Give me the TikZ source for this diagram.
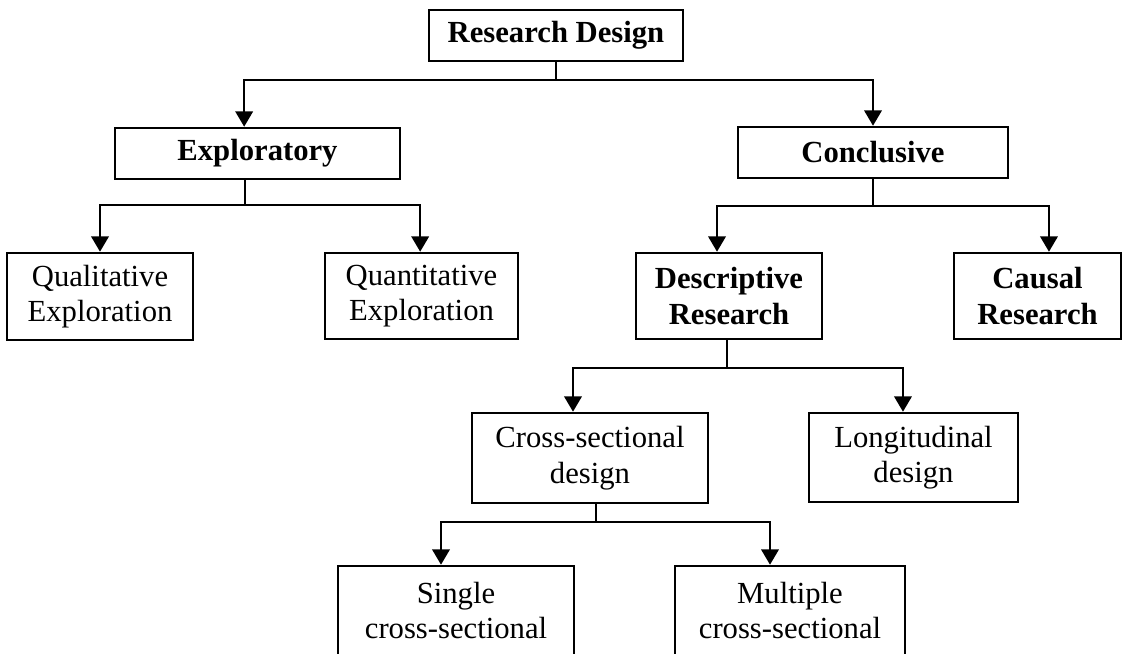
\documentclass[tikz,border=0pt]{standalone}
\usepackage{fontspec}
\setmainfont{Liberation Serif}
\usetikzlibrary{arrows.meta}

\tikzset{
  box/.style={draw, line width=1.9pt, inner sep=0pt, align=center,
              font=\fontsize{23}{26.5}\selectfont},
  bbox/.style={box, font=\fontsize{23}{26.5}\selectfont\bfseries},
  line/.style={line width=1.9pt},
  arr/.style={line width=1.9pt, -{Triangle[length=11.5pt,width=13pt]}},
}

\begin{document}
\begin{tikzpicture}[x=0.75pt, y=-0.75pt]
  \useasboundingbox (0,0) rectangle (1123,653);
  \clip (0,0) rectangle (1123,653);

  % bus levels of the tree
  \coordinate (L1) at (0,80);
  \coordinate (L2) at (0,205);
  \coordinate (L3) at (0,206);
  \coordinate (L4) at (0,368);
  \coordinate (L5) at (0,522);

  % boxes
  \node[bbox, minimum width=190.5pt, minimum height=38.25pt] (rd)   at (556,35.5)   {Research Design};
  \node[bbox, minimum width=213.75pt, minimum height=38.25pt] (exp)  at (257.5,153.5) {Exploratory};
  \node[bbox, minimum width=202.5pt, minimum height=38.25pt] (con)  at (873,152.5)  {Conclusive};
  \node[box,  minimum width=139.5pt, minimum height=65.25pt] (qual) at (100,296.5)  {Qualitative\\Exploration};
  \node[box,  minimum width=144.75pt, minimum height=64.5pt] (quan) at (421.5,296)  {Quantitative\\Exploration};
  \node[bbox, minimum width=139.5pt, minimum height=64.5pt] (desc) at (729,296)    {Descriptive\\Research};
  \node[bbox, minimum width=125.25pt, minimum height=64.5pt] (caus) at (1037.5,296) {Causal\\Research};
  \node[box,  minimum width=177pt, minimum height=67.5pt] (cross) at (590,458)   {Cross-sectional\\design};
  \node[box,  minimum width=156.75pt, minimum height=66.75pt] (long) at (913.5,457.5) {Longitudinal\\design};
  \node[box,  minimum width=177pt, minimum height=97.5pt] (single) at (456,631)  {Single\\cross-sectional\\\phantom{design}};
  \node[box,  minimum width=172.5pt, minimum height=97.5pt] (multi)  at (790,631)  {Multiple\\cross-sectional\\\phantom{design}};

  % Research Design -> Exploratory / Conclusive
  \draw[line] (rd.south) -- (rd.south |- L1);
  \draw[arr] (rd.south |- L1) -| ([xshift=-10pt]exp.north);
  \draw[arr] (rd.south |- L1) -| (con.north);

  % Exploratory -> Qualitative / Quantitative
  \draw[line] ([xshift=-9.4pt]exp.south) -- ([xshift=-9.4pt]exp.south |- L2);
  \draw[arr] ([xshift=-9.4pt]exp.south |- L2) -| (qual.north);
  \draw[arr] ([xshift=-9.4pt]exp.south |- L2) -| ([xshift=-1pt]quan.north);

  % Conclusive -> Descriptive / Causal
  \draw[line] (con.south) -- (con.south |- L3);
  \draw[arr] (con.south |- L3) -| ([xshift=-9pt]desc.north);
  \draw[arr] (con.south |- L3) -| ([xshift=8.6pt]caus.north);

  % Descriptive -> Cross-sectional / Longitudinal
  \draw[line] ([xshift=-1.5pt]desc.south) -- ([xshift=-1.5pt]desc.south |- L4);
  \draw[arr] ([xshift=-1.5pt]desc.south |- L4) -| ([xshift=-12.75pt]cross.north);
  \draw[arr] ([xshift=-1.5pt]desc.south |- L4) -| ([xshift=-7.9pt]long.north);

  % Cross-sectional -> Single / Multiple
  \draw[line] ([xshift=4.5pt]cross.south) -- ([xshift=4.5pt]cross.south |- L5);
  \draw[arr] ([xshift=4.5pt]cross.south |- L5) -| ([xshift=-11.25pt]single.north);
  \draw[arr] ([xshift=4.5pt]cross.south |- L5) -| ([xshift=-15pt]multi.north);
\end{tikzpicture}
\end{document}
